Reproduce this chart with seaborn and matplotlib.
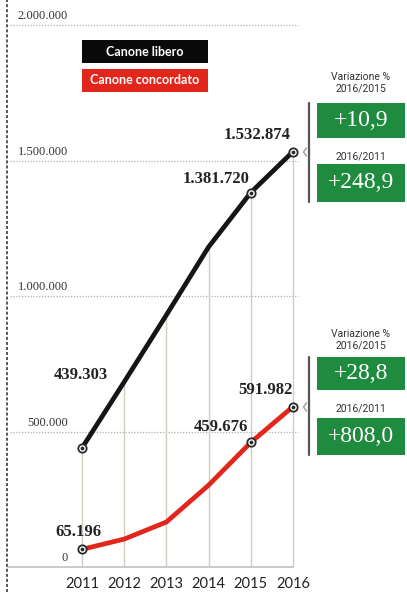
import matplotlib
matplotlib.use("Agg")
import matplotlib.pyplot as plt
import numpy as np
import pandas as pd
import seaborn as sns
from matplotlib.patches import Rectangle
from matplotlib.lines import Line2D

# ---------------- data ----------------
years = [2011, 2012, 2013, 2014, 2015, 2016]
libero = [439303, 683000, 930000, 1181000, 1381720, 1532874]
concordato = [65196, 103000, 166000, 302000, 459676, 591982]
series_names = ["Canone libero", "Canone concordato"]
labeled_years = [2011, 2015, 2016]
ytick_values = [0, 500000, 1000000, 1500000, 2000000]
ytick_labels = ["0", "500.000", "1.000.000", "1.500.000", "2.000.000"]
var_titles = ["Variazione %\n2016/2015", "2016/2011"]
var_libero = ["+10,9", "+248,9"]
var_concordato = ["+28,8", "+808,0"]

def fmt(v):
    return f"{v:,}".replace(",", ".")

# ---------------- style ----------------
sns.set_theme(style="white")
plt.rcParams["font.family"] = ["DejaVu Sans"]

W, H = 407, 592
fig = plt.figure(figsize=(W / 100, H / 100), dpi=100)
fig.patch.set_facecolor("white")

SX = 42.2          # px per year
X0 = 82            # pixel of 2011
BASE = 567         # pixel of zero
SY = 135.5 / 500000  # px per unit

ax = fig.add_axes([0, (H - BASE) / H, 1, BASE / H])
ax.set_xlim(2011 - X0 / SX, 2011 + (W - X0) / SX)
ax.set_ylim(0, BASE / SY)

def px2x(p):
    return 2011 + (p - X0) / SX

BLACK = "#151515"
RED = "#e2261c"
GREEN = "#1f8b3f"

df = pd.DataFrame({
    "year": years * 2,
    "value": libero + concordato,
    "serie": [series_names[0]] * len(years) + [series_names[1]] * len(years),
})

# drop lines
ax.vlines(years, 0, libero, color="#d2cdc0", lw=1.0, zorder=1)

# gridlines
for v in ytick_values[1:]:
    ax.hlines(v, px2x(10), px2x(298), color="#b0b0b0", lw=0.9,
              linestyles=(0, (1, 1.3)), zorder=0)

sns.lineplot(data=df, x="year", y="value", hue="serie",
             palette={series_names[0]: BLACK, series_names[1]: RED},
             linewidth=3.4, legend=False, ax=ax, zorder=3)
for ln in ax.lines:
    ln.set_solid_capstyle("round")
    ln.set_solid_joinstyle("round")

# markers
for vals in (libero, concordato):
    xs = [y for y in labeled_years]
    ys = [vals[years.index(y)] for y in labeled_years]
    ax.scatter(xs, ys, s=36, facecolor="white", edgecolor="#2a2a2a",
               linewidth=1.3, zorder=5, clip_on=False)
    ax.scatter(xs, ys, s=3, color="#2a2a2a", zorder=6, clip_on=False)

# value labels
label_offsets = {
    (0, 2011): (-1, 73), (0, 2015): (-35, 14), (0, 2016): (-36, 17),
    (1, 2011): (-4, 17), (1, 2015): (-30, 15), (1, 2016): (-28, 17),
}
for si, vals in enumerate((libero, concordato)):
    for y in labeled_years:
        v = vals[years.index(y)]
        dx, dy = label_offsets[(si, y)]
        ax.annotate(fmt(v), (y, v), xytext=(dx, dy), textcoords="offset pixels",
                    ha="center", va="center", fontsize=12, fontweight="bold",
                    family="Liberation Serif", color="#222222", zorder=7)

# y labels
for v, t in zip(ytick_values, ytick_labels):
    ax.annotate(t, (px2x(68), v), xytext=(0, 9), textcoords="offset pixels",
                ha="right", va="center", fontsize=9,
                family="Liberation Serif", color="#333333")

# axes styling
sns.despine(ax=ax, left=True, top=True, right=True)
ax.spines["bottom"].set_bounds(px2x(8), px2x(293))
ax.spines["bottom"].set_color("#bdbdbd")
ax.spines["bottom"].set_linewidth(1.1)
ax.set_xticks(years)
ax.set_xticklabels([str(y) for y in years], family="Lato", fontsize=10.5,
                   color="#222222")
ax.tick_params(axis="x", length=0, pad=7)
ax.set_yticks([])
ax.set_xlabel("")
ax.set_ylabel("")
ax.patch.set_alpha(0)

# ---------------- decorations (pixel coords) ----------------
def fx(p):
    return p / W

def fy(p):
    return 1 - p / H

def box(x0, y0, x1, y1, color):
    fig.patches.append(Rectangle((fx(x0), fy(y1)), fx(x1) - fx(x0), fy(y0) - fy(y1),
                                 transform=fig.transFigure, facecolor=color,
                                 edgecolor="none", zorder=10))

# left page border
fig.add_artist(Line2D([fx(7), fx(7)], [0, 1], transform=fig.transFigure,
                      color="#2a2a2a", lw=1.1, ls=(0, (2, 1.3))))

# legend boxes
box(82, 40, 208, 63, "#0a0a0a")
box(82, 69, 208, 92, RED)
fig.text(fx(145), fy(51.5), series_names[0], ha="center", va="center",
         color="white", fontsize=9, fontweight="bold", family="Lato", zorder=11)
fig.text(fx(145), fy(80.5), series_names[1], ha="center", va="center",
         color="white", fontsize=9, fontweight="bold", family="Lato", zorder=11)

# variation groups
def group(ty, b1, ly, b2, notch_y, vals):
    fig.text(fx(361), fy(ty), var_titles[0], ha="center", va="center",
             fontsize=7.5, family="Roboto", color="#333333", linespacing=1.15)
    box(317, b1[0], 405, b1[1], GREEN)
    fig.text(fx(361), fy((b1[0] + b1[1]) / 2), vals[0], ha="center", va="center",
             fontsize=17, family="Liberation Serif", color="white", zorder=11)
    fig.text(fx(361), fy(ly), var_titles[1], ha="center", va="center",
             fontsize=7.5, family="Roboto", color="#333333")
    box(317, b2[0], 405, b2[1], GREEN)
    fig.text(fx(361), fy((b2[0] + b2[1]) / 2), vals[1], ha="center", va="center",
             fontsize=17, family="Liberation Serif", color="white", zorder=11)
    fig.add_artist(Line2D([fx(309), fx(309)], [fy(b1[0]), fy(b2[1])],
                          transform=fig.transFigure, color="#555555", lw=1.6))
    fig.add_artist(Line2D([fx(306.5), fx(303.5), fx(306.5)],
                          [fy(notch_y - 4), fy(notch_y), fy(notch_y + 4)],
                          transform=fig.transFigure, color="#9a9a9a", lw=1))

group(83, (103, 138), 157, (164, 202), 152, var_libero)
group(340, (357, 390), 408, (418, 455), 407, var_concordato)

fig.savefig("out.png", dpi=100)
